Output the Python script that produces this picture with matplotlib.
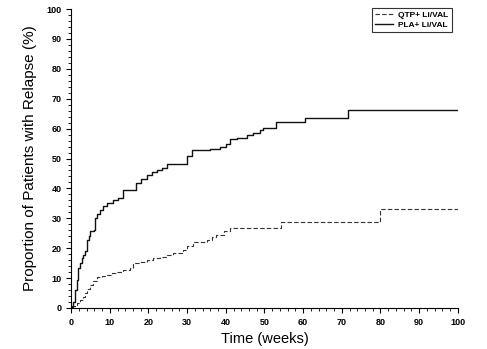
import matplotlib
matplotlib.use("Agg")
import matplotlib.pyplot as plt
from matplotlib.ticker import MultipleLocator

plt.rcParams['font.family'] = ['Liberation Sans', 'DejaVu Sans']

# PLA + Li/VAL (solid)
pla_weeks = [0, 0.5, 1.0, 1.4, 1.9, 2.3, 2.8, 3.2, 3.6, 4.0, 4.5, 4.9, 5.8, 6.2, 6.8,
             7.5, 8.3, 9.2, 10.9, 12.2, 13.5, 16.9, 18.2, 19.5, 20.8, 22.1, 23.4, 24.7,
             29.9, 31.2, 36.0, 38.6, 40.0, 41.1, 43.0, 45.4, 47.0, 48.8, 49.7, 53.1,
             60.5, 71.7, 100]
pla_pct = [0.4, 2.0, 6.0, 9.5, 13.3, 15.0, 16.7, 17.8, 18.9, 22.8, 24.0, 25.6, 26.2, 30.1, 31.5,
           32.9, 34.0, 35.1, 36.2, 36.8, 39.6, 41.8, 43.0, 44.6, 45.5, 46.3, 47.0, 48.2,
           50.8, 52.8, 53.3, 53.9, 55.0, 56.4, 57.0, 58.0, 58.7, 59.4, 60.3, 62.3,
           63.6, 66.4, 66.4]

# QTP + Li/VAL (dashed)
qtp_weeks = [0, 1.0, 1.6, 2.3, 3.0, 3.6, 4.2, 4.9, 5.6, 6.6, 8.0, 9.2, 10.5, 11.8, 13.5,
             15.2, 16.1, 17.8, 19.5, 21.2, 23.0, 24.7, 26.4, 29.0, 29.9, 31.6, 35.1, 36.4,
             37.6, 39.5, 41.1, 54.3, 79.8, 100]
qtp_pct = [0.5, 1.0, 1.8, 2.7, 3.8, 4.9, 6.2, 7.7, 9.0, 10.5, 10.8, 11.1, 11.6, 12.2, 12.8,
           13.3, 15.0, 15.5, 16.1, 16.6, 17.2, 17.8, 18.4, 19.5, 20.6, 22.2, 22.8, 23.6,
           24.5, 25.6, 26.7, 28.8, 33.2, 33.2]

x_ticks = list(range(0, 101, 10))
y_ticks = list(range(0, 101, 10))

fig = plt.figure(figsize=(4.87, 3.49), dpi=100)
ax = fig.add_axes([0.146, 0.1175, 0.794, 0.8565])

ax.plot(qtp_weeks, qtp_pct, drawstyle='steps-post', color='#333333', lw=0.8,
        linestyle=(0, (4, 2)), label='QTP+ Li/VAL')
ax.plot(pla_weeks, pla_pct, drawstyle='steps-post', color='#111111', lw=1.0,
        label='PLA+ Li/VAL')

ax.set_xlim(0, 100)
ax.set_ylim(0, 100)
ax.set_xticks(x_ticks)
ax.set_yticks(y_ticks)
ax.xaxis.set_minor_locator(MultipleLocator(2))
ax.yaxis.set_minor_locator(MultipleLocator(2))
ax.tick_params(which='major', length=3.5, width=0.8, direction='out',
               labelsize=6.5)
ax.tick_params(which='minor', length=2, width=0.6, direction='out')
for lbl in ax.get_xticklabels() + ax.get_yticklabels():
    lbl.set_fontweight('bold')
ax.spines['top'].set_visible(False)
ax.spines['right'].set_visible(False)
for s in ('left', 'bottom'):
    ax.spines[s].set_linewidth(0.8)

ax.set_xlabel('Time (weeks)', fontsize=10.5, labelpad=4)
ax.set_ylabel('Proportion of Patients with Relapse (%)', fontsize=11, labelpad=7)

leg = ax.legend(loc='upper right', bbox_to_anchor=(0.928, 0.977), bbox_transform=fig.transFigure,
                borderaxespad=0, fontsize=6, frameon=True, fancybox=False, edgecolor='black',
                handlelength=2.2, borderpad=0.4, labelspacing=0.2, handletextpad=0.6)
leg.get_frame().set_linewidth(0.8)
for t in leg.get_texts():
    t.set_fontweight('bold')

fig.savefig('out.png', dpi=100)
